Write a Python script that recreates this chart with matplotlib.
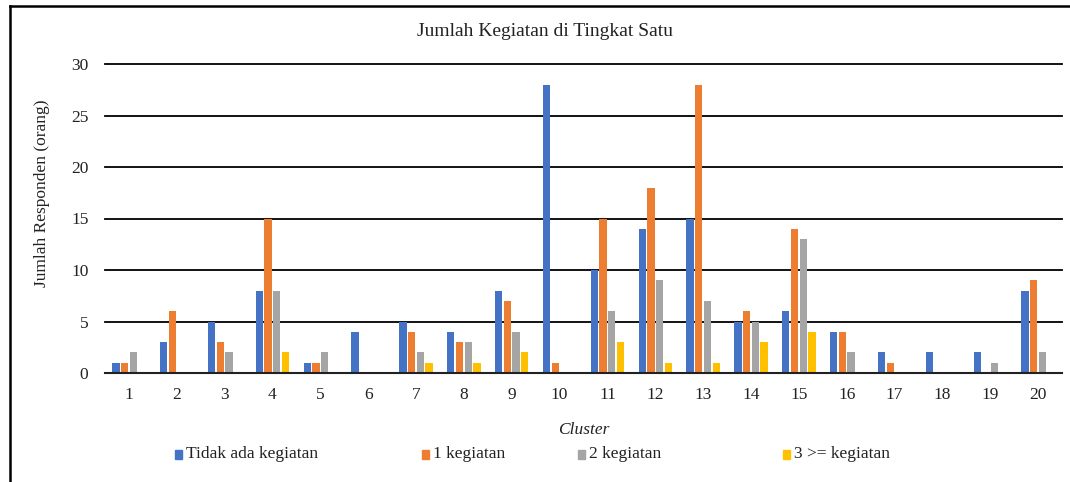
import matplotlib.pyplot as plt
import numpy as np
from matplotlib.lines import Line2D

clusters = [str(i) for i in range(1, 21)]
tidak_ada = [1, 3, 5, 8, 1, 4, 5, 4, 8, 28, 10, 14, 15, 5, 6, 4, 2, 2, 2, 8]
satu = [1, 6, 3, 15, 1, 0, 4, 3, 7, 1, 15, 18, 28, 6, 14, 4, 1, 0, 0, 9]
dua = [2, 0, 2, 8, 2, 0, 2, 3, 4, 0, 6, 9, 7, 5, 13, 2, 0, 0, 1, 2]
tiga = [0, 0, 0, 2, 0, 0, 1, 1, 2, 0, 3, 1, 1, 3, 4, 0, 0, 0, 0, 0]
series_names = ["Tidak ada kegiatan", "1 kegiatan", "2 kegiatan", "3 >= kegiatan"]
colors = ["#4472C4", "#ED7D31", "#A5A5A5", "#FFC000"]

plt.rcParams['font.family'] = ['Liberation Serif', 'DejaVu Serif']

fig = plt.figure(figsize=(10.7, 4.82), dpi=100)
ax = fig.add_axes([105/1070, 1-373/482, (1062-105)/1070, (373-64)/482])

x = np.arange(len(clusters))
w = 0.182
data = [tidak_ada, satu, dua, tiga]
for i, (vals, c, name) in enumerate(zip(data, colors, series_names)):
    ax.bar(x + (i - 1.5) * w, vals, width=w * 0.84, color=c, label=name, zorder=3)

ax.set_xlim(-0.5, len(clusters) - 0.5)
ax.set_ylim(0, 30)
ax.set_yticks([0, 5, 10, 15, 20, 25, 30])
ax.set_xticks(x)
ax.set_xticklabels(clusters)
ax.yaxis.grid(True, color='black', linewidth=1.3, zorder=0)
for gl in ax.get_ygridlines():
    gl.set_clip_on(False)
ax.set_axisbelow(True)
for s in ['top', 'right', 'left']:
    ax.spines[s].set_visible(False)
ax.spines['bottom'].set_color('#222222')
ax.spines['bottom'].set_linewidth(1.5)
ax.spines['bottom'].set_zorder(4)
ax.tick_params(axis='both', length=0, labelsize=12.5, colors='#222222')
ax.tick_params(axis='y', pad=12)
ax.tick_params(axis='x', pad=10)

fig.text(42/1070, 1-193/482, "Jumlah Responden (orang)", rotation=90, ha='center', va='center',
         fontsize=12.5, color='#222222')
ax.set_xlabel("Cluster", fontsize=12.5, style='italic', color='#222222', labelpad=14)
fig.text(545/1070, 1-32/482, "Jumlah Kegiatan di Tingkat Satu", ha='center', va='center',
         fontsize=14, color='#222222')

leg_x = [175, 422, 578, 783]
for lx, c, name in zip(leg_x, colors, series_names):
    fig.patches.append(plt.Rectangle(((lx) / 1070, 1 - 459/482), 7/1070, 9/482,
                                     transform=fig.transFigure, color=c))
    fig.text((lx + 11) / 1070, 1 - 454/482, name, ha='left', va='center',
             fontsize=12.5, color='#222222')

# outer frame (left and top edges)
fig.add_artist(Line2D([10/1070, 10/1070], [0, 1 - 6/482], transform=fig.transFigure,
                      color='black', linewidth=1.8))
fig.add_artist(Line2D([10/1070, 1], [1 - 6/482, 1 - 6/482], transform=fig.transFigure,
                      color='black', linewidth=1.8))

fig.savefig("out.png", dpi=100)
